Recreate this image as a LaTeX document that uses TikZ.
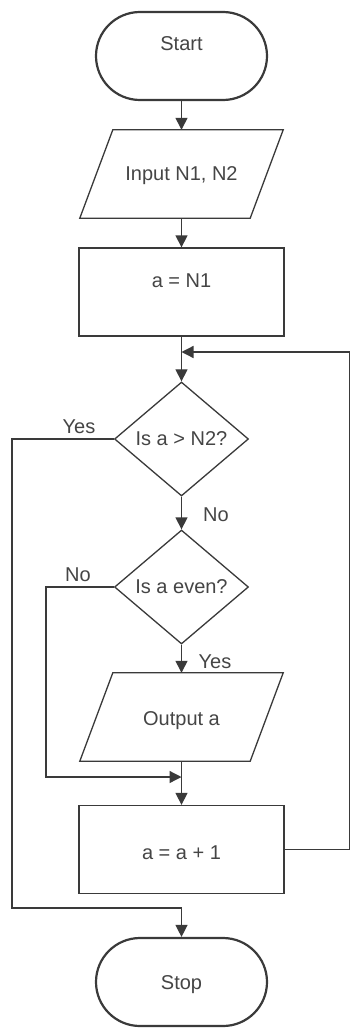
\documentclass[tikz,border=0pt]{standalone}
\usepackage{fontspec}
\setmainfont{Liberation Sans}
\usetikzlibrary{shapes.geometric,arrows.meta,calc}
\definecolor{ink}{HTML}{3A3A3A}
\definecolor{txt}{HTML}{454545}
\newcommand\liftt[2]{\raisebox{#1}[\height][\depth]{#2}}
\begin{document}
\begin{tikzpicture}[x=1pt,y=-1pt,
  every node/.style={font=\fontsize{20}{24}\selectfont, text=txt},
  term/.style={draw=ink, line width=2.2pt, rounded corners=44pt, minimum width=171pt, minimum height=88pt, inner sep=0pt},
  proc/.style={draw=ink, line width=1.3pt, minimum width=205pt, minimum height=88pt, inner sep=0pt},
  iobox/.style={minimum width=170pt, minimum height=88pt, inner sep=0pt},
  dec/.style={draw=ink, line width=1.3pt, shape=diamond, inner sep=0pt, minimum width=134pt, minimum height=114pt},
  shapeline/.style={draw=ink, line width=1.3pt},
  arr/.style={draw=ink, line width=1.3pt, -{Triangle[width=12pt,length=12pt]}},
  lab/.style={font=\fontsize{20}{24}\selectfont, text=txt}]
\useasboundingbox (0,0) rectangle (351,1030);
\fill[white] (0,0) rectangle (351,1030);

\node[term] (start) at (181.5,56) {\liftt{12pt}{Start}};
\node[iobox] (input) at (181.5,174) {\liftt{-2pt}{Input N1, N2}};
\node[proc] (r1) at (181.5,292) {\liftt{11pt}{a = N1}};
\node[dec] (d1) at (181.5,439) {Is a > N2?};
\node[dec] (d2) at (181.5,587) {Is a even?};
\node[iobox] (out) at (181.5,717) {\liftt{-4pt}{Output a}};
\node[proc] (r2) at (181.5,849.5) {\liftt{-3pt}{a = a + 1}};
\node[term] (stop) at (181.5,982) {\liftt{-3pt}{Stop}};

\draw[shapeline] ([xshift=16.5pt]input.north west) -- ([xshift=16.5pt]input.north east) -- ([xshift=-16.5pt]input.south east) -- ([xshift=-16.5pt]input.south west) -- cycle;
\draw[shapeline] ([xshift=16.5pt]out.north west) -- ([xshift=16.5pt]out.north east) -- ([xshift=-16.5pt]out.south east) -- ([xshift=-16.5pt]out.south west) -- cycle;

\coordinate (loop) at (181.5,352);
\coordinate (j2) at (181.5,777);

\draw[arr] (start) -- (input);
\draw[arr] (input) -- (r1);
\draw[arr] (r1) -- (d1);
\draw[arr] (d1) -- (d2);
\draw[arr] (d2) -- (out);
\draw[arr] (out) -- (r2);
\draw[arr] (r2.east) -- ([xshift=65pt]r2.east) |- (loop);
\draw[arr] (d1.west) -- ([xshift=-102pt]d1.west) |- ([yshift=29pt]stop.north) -- (stop.north);
\draw[arr] (d2.west) -- ([xshift=-68pt]d2.west) |- (j2);

\node[lab] (ly1) at (79,427) {Yes};
\node[lab] (ln1) at (216,515) {No};
\node[lab] (ln2) at (78,575) {No};
\node[lab] (ly2) at (215,662) {Yes};
\end{tikzpicture}
\end{document}
